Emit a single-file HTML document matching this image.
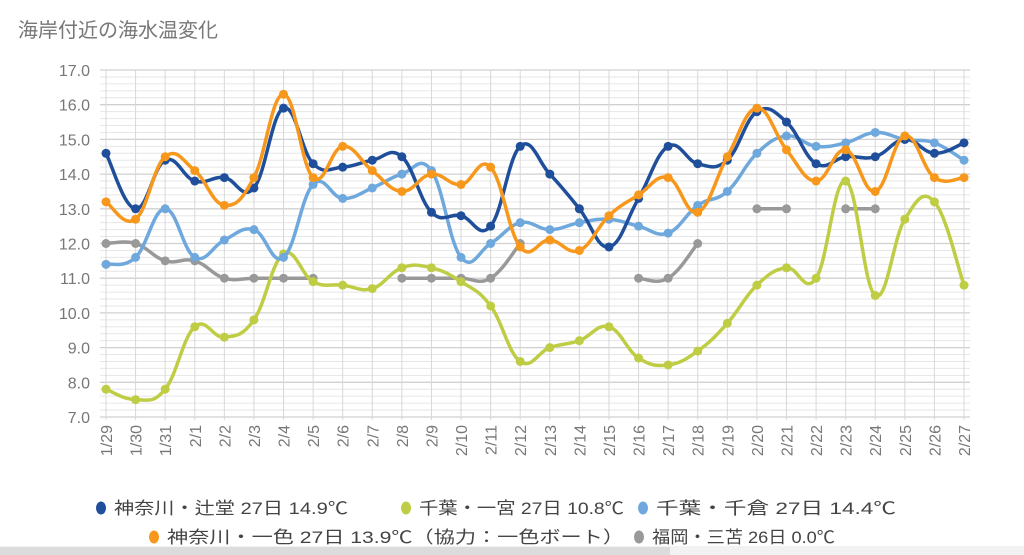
<!DOCTYPE html>
<html><head><meta charset="utf-8"><style>
body{margin:0;width:1024px;height:555px;background:#fff;overflow:hidden;font-family:"Liberation Sans","Noto Sans CJK JP",sans-serif;}
#title{position:absolute;left:18px;top:14px;font-size:20px;color:#777;}
svg{position:absolute;left:0;top:0;}
</style></head><body>
<div id="title">海岸付近の海水温変化</div>
<svg id="chart" width="1024" height="555"></svg>
<script>
const categories=["1/29","1/30","1/31","2/1","2/2","2/3","2/4","2/5","2/6","2/7","2/8","2/9","2/10","2/11","2/12","2/13","2/14","2/15","2/16","2/17","2/18","2/19","2/20","2/21","2/22","2/23","2/24","2/25","2/26","2/27"];
const yTicks=["7.0","8.0","9.0","10.0","11.0","12.0","13.0","14.0","15.0","16.0","17.0"];
const tsujido=[14.6,13.0,14.4,13.8,13.9,13.6,15.9,14.3,14.2,14.4,14.5,12.9,12.8,12.5,14.8,14.0,13.0,11.9,13.3,14.8,14.3,14.4,15.8,15.5,14.3,14.5,14.5,15.0,14.6,14.9];
const ichinomiya=[7.8,7.5,7.8,9.6,9.3,9.8,11.7,10.9,10.8,10.7,11.3,11.3,10.9,10.2,8.6,9.0,9.2,9.6,8.7,8.5,8.9,9.7,10.8,11.3,11.0,13.8,10.5,12.7,13.2,10.8];
const chikura=[11.4,11.6,13.0,11.6,12.1,12.4,11.6,13.7,13.3,13.6,14.0,14.1,11.6,12.0,12.6,12.4,12.6,12.7,12.5,12.3,13.1,13.5,14.6,15.1,14.8,14.9,15.2,15.0,14.9,14.4];
const isshiki=[13.2,12.7,14.5,14.1,13.1,13.9,16.3,13.9,14.8,14.1,13.5,14.0,13.7,14.2,11.9,12.1,11.8,12.8,13.4,13.9,12.9,14.5,15.9,14.7,13.8,14.7,13.5,15.1,13.9,13.9];
const mitoma=[12.0,12.0,11.5,11.5,11.0,11.0,11.0,11.0,null,null,11.0,11.0,11.0,11.0,12.0,null,13.0,null,11.0,11.0,12.0,null,13.0,13.0,null,13.0,13.0,null,null,null];
const legendLabels=["神奈川・辻堂 27日 14.9℃","千葉・一宮 27日 10.8℃","千葉・千倉 27日 14.4℃","神奈川・一色 27日 13.9℃（協力：一色ボート）","福岡・三苫 26日 0.0℃"];

const svg=document.getElementById('chart');
const NS='http://www.w3.org/2000/svg';
const X0=106,X1=964,Y0=417,Y1=70,VMIN=7,VMAX=17;
const xs=i=>X0+(X1-X0)*i/(categories.length-1);
const ys=v=>Y0-(Y0-Y1)*(v-VMIN)/(VMAX-VMIN);
function mk(t,a,p){const e=document.createElementNS(NS,t);for(const k in a)e.setAttribute(k,a[k]);(p||svg).appendChild(e);return e;}
const grid=mk('g',{});


for(let v=VMIN;v<=VMAX+1e-6;v+=0.2){const major=Math.abs(v-Math.round(v))<1e-6;
 mk('line',{x1:100,x2:970,y1:ys(v),y2:ys(v),stroke:major?'#d0d0d0':'#e6e6e6','stroke-width':major?1.3:1},grid);}
categories.forEach((c,i)=>{mk('line',{x1:xs(i),x2:xs(i),y1:Y1,y2:Y0+3,stroke:'#d8d8d8','stroke-width':1},grid);});
yTicks.forEach(t=>{const e=mk('text',{x:90,y:ys(parseFloat(t))+6,'text-anchor':'end','font-size':16,fill:'#777'});e.textContent=t;
 
 });
categories.forEach((c,i)=>{const e=mk('text',{transform:`translate(${xs(i)+6},${Y0+8}) rotate(-90)`,'text-anchor':'end','font-size':16,fill:'#777'});e.textContent=c;
 
 });
function path(pts){let d=`M${pts[0][0]},${pts[0][1]}`;const t=0.2;
 for(let i=0;i<pts.length-1;i++){const p0=pts[i-1]||pts[i],p1=pts[i],p2=pts[i+1],p3=pts[i+2]||p2;
  d+=` C${p1[0]+(p2[0]-p0[0])*t},${p1[1]+(p2[1]-p0[1])*t} ${p2[0]-(p3[0]-p1[0])*t},${p2[1]-(p3[1]-p1[1])*t} ${p2[0]},${p2[1]}`;}
 return d;}
function series(data,color,name){const g=mk('g',{});
 
 
 let seg=[];const segs=[];
 data.forEach((v,i)=>{if(v==null){if(seg.length)segs.push(seg);seg=[];}else seg.push([xs(i),ys(v)]);});
 if(seg.length)segs.push(seg);
 segs.forEach(s=>{if(s.length>1)mk('path',{d:path(s),fill:'none',stroke:color,'stroke-width':3.5,'stroke-linejoin':'round'},g);});
 data.forEach((v,i)=>{if(v!=null){const c=mk('circle',{cx:xs(i),cy:ys(v),r:4.5,fill:color},g);
  
  }});}
const colors=['#1f4e9a','#bfcd45','#6fa8dc','#f7981d','#999999'];
series(mitoma,colors[4],'series-fukuoka-mitoma');
series(ichinomiya,colors[1],'series-chiba-ichinomiya');
series(chikura,colors[2],'series-chiba-chikura');
series(tsujido,colors[0],'series-kanagawa-tsujido');
series(isshiki,colors[3],'series-kanagawa-isshiki');
const legPos=[[101,508,0,234],[406,508,1,205],[643,508,2,240],[154,537,3,457],[639,537,4,183]];
legPos.forEach(([x,y,k,w])=>{const g=mk('g',{});
 
 
 mk('ellipse',{cx:x,cy:y,rx:5,ry:6.5,fill:colors[k]},g);
 const t=mk('text',{x:x+13,y:y+6,'font-size':17,fill:'#444',textLength:w,lengthAdjust:'spacingAndGlyphs'},g);t.textContent=legendLabels[k];});
const bar=mk('rect',{x:0,y:546,width:1024,height:9,fill:'#f2f2f2'});


const bar2=mk('rect',{x:0,y:547,width:670,height:8,fill:'#dcdcdc'});


</script>
</body></html>
